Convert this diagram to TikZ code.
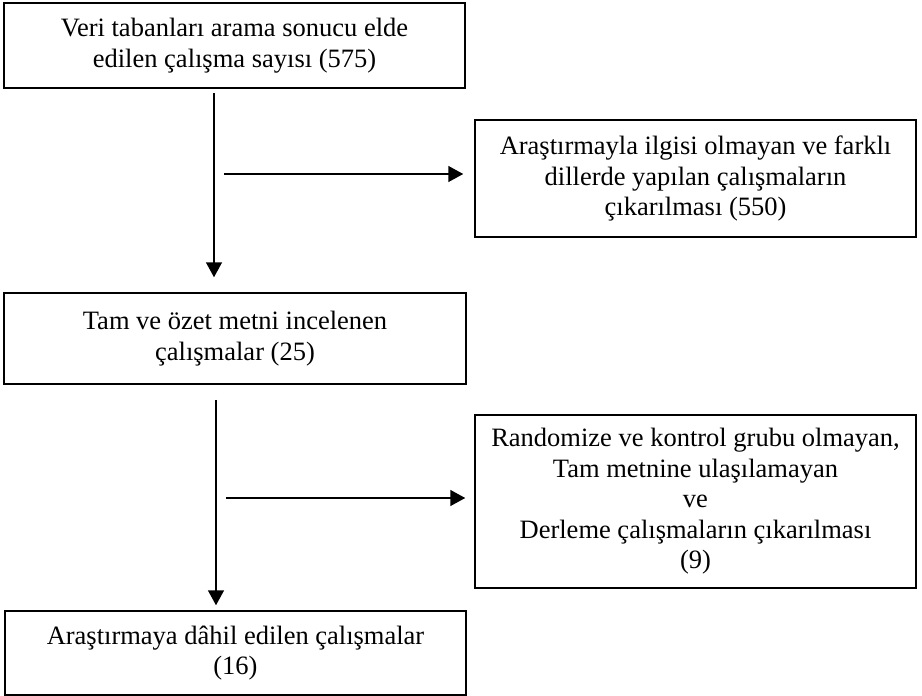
\documentclass[tikz,border=0pt]{standalone}
\usepackage{fontspec}
\setmainfont{Liberation Serif}
\usetikzlibrary{arrows.meta}
\begin{document}
\begin{tikzpicture}[x=1pt,y=-1pt,
  box/.style={draw, line width=1.5pt, rectangle, inner sep=0pt, align=center,
    font=\fontsize{26.5}{30.5}\selectfont},
  arr/.style={line width=1.5pt, -{Triangle[length=15pt,width=16pt]}}]
\useasboundingbox (0,0) rectangle (922,696);
\node[box, minimum width=461pt, minimum height=85pt] (b1) at (234.5,45.5)
  {Veri tabanları arama sonucu elde\\edilen çalışma sayısı (575)};
\node[box, minimum width=441pt, minimum height=117pt] (b2) at (695.5,178.5)
  {Araştırmayla ilgisi olmayan ve farklı\\dillerde yapılan çalışmaların\\çıkarılması (550)};
\node[box, minimum width=462pt, minimum height=91pt] (b3) at (235,338.5)
  {Tam ve özet metni incelenen\\çalışmalar (25)};
\node[box, minimum width=441pt, minimum height=173pt] (b4) at (695.5,501.5)
  {Randomize ve kontrol grubu olmayan,\\Tam metnine ulaşılamayan\\ve\\Derleme çalışmaların çıkarılması\\(9)};
\node[box, minimum width=461pt, minimum height=84pt] (b5) at (235.5,653)
  {Araştırmaya dâhil edilen çalışmalar\\(16)};
\coordinate (v1) at (214,0);
\coordinate (v2) at (216,0);
\coordinate (h1) at (224,174);
\coordinate (h2) at (226,498);
\draw[arr, shorten <=4pt, shorten >=15pt] (v1 |- b1.south) -- (v1 |- b3.north);
\draw[arr, shorten >=11pt] (h1) -- (h1 -| b2.west);
\draw[arr, shorten <=15pt, shorten >=5pt] (v2 |- b3.south) -- (v2 |- b5.north);
\draw[arr, shorten >=9pt] (h2) -- (h2 -| b4.west);
\end{tikzpicture}
\end{document}
